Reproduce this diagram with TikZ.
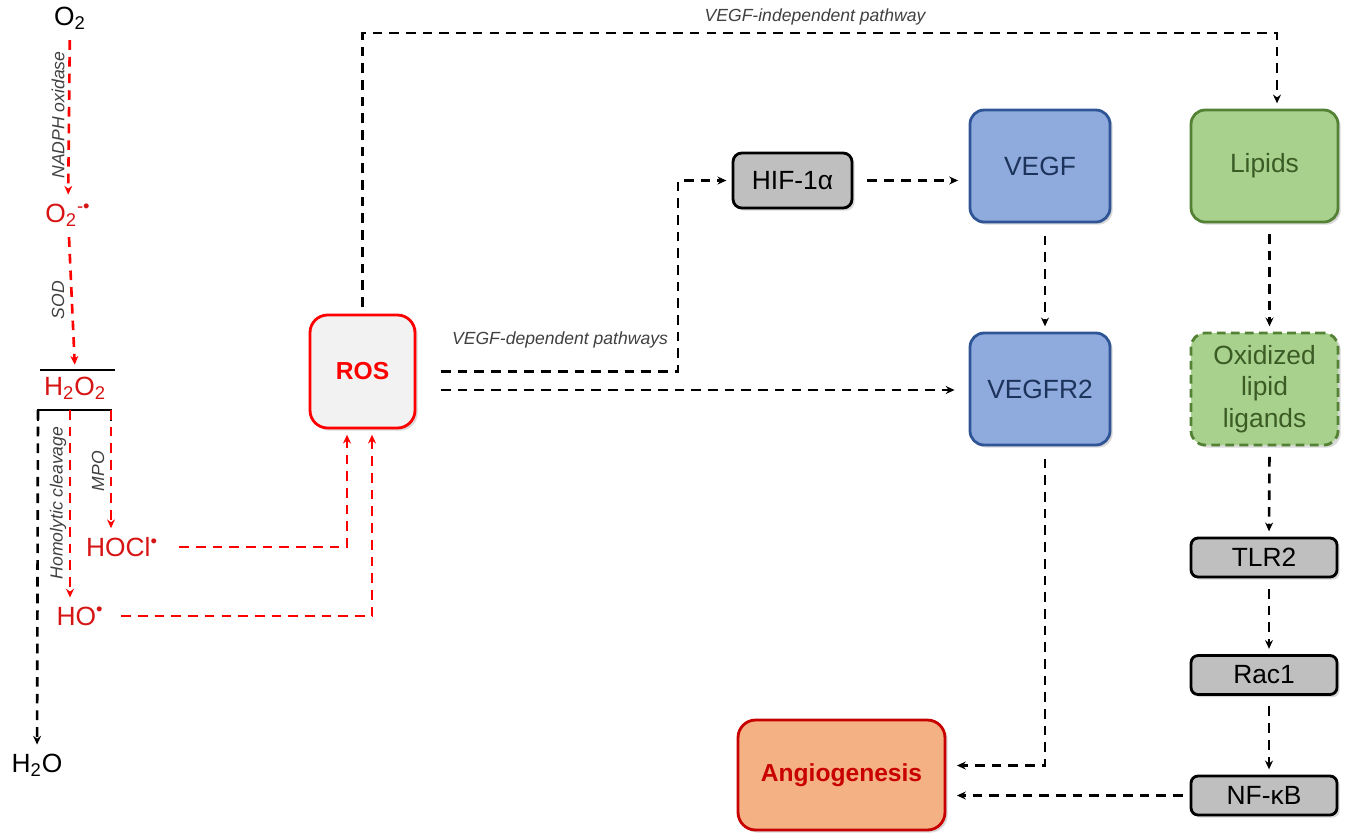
\documentclass[tikz,border=0pt]{standalone}
\usepackage{fontspec}
\setmainfont{Liberation Sans}
\usetikzlibrary{arrows.meta,shadows,positioning}

\definecolor{rosred}{RGB}{255,0,0}
\definecolor{txtred}{RGB}{215,20,20}
\definecolor{angiofill}{RGB}{244,177,131}
\definecolor{angiodraw}{RGB}{200,0,0}
\definecolor{bluefill}{RGB}{143,170,220}
\definecolor{bluedraw}{RGB}{47,85,151}
\definecolor{greenfill}{RGB}{169,209,142}
\definecolor{greendraw}{RGB}{84,130,53}
\definecolor{greyfill}{RGB}{191,191,191}
\definecolor{lblgrey}{RGB}{64,64,64}

\tikzset{
	box/.style={draw,rounded corners=8pt,line width=1.6pt,align=center,
		font=\fontsize{15}{18}\selectfont,
		drop shadow={opacity=.3,shadow xshift=1.5pt,shadow yshift=-1.5pt}},
	bigbox/.style={box,minimum width=2.8cm,minimum height=2.24cm},
	smallbox/.style={box,rounded corners=4pt,fill=greyfill,minimum width=2.92cm,minimum height=.78cm},
	chem/.style={inner sep=2pt,font=\fontsize{15}{18}\selectfont},
	lbl/.style={text=lblgrey,font=\fontsize{10}{12}\selectfont\itshape},
	flow/.style={line width=1.5pt,dash pattern=on 5.5pt off 4pt,
		-{Stealth[length=5pt,width=4.5pt]},shorten <=4pt,shorten >=3pt},
	redflow/.style={flow,rosred},
	bar/.style={line width=1.6pt}
}

\begin{document}
\begin{tikzpicture}[x=0.02cm,y=-0.02cm]
	\useasboundingbox (0,0) rectangle (1348,833);

	% oxygen chain
	\node[chem] (o2) at (70,18) {O\textsubscript{2}};
	\node[chem,text=txtred] (sup) at (68,215) {O\textsubscript{2}\textsuperscript{-•}};
	\node[chem,text=txtred] (hperox) at (75,388) {H\textsubscript{2}O\textsubscript{2}};
	\node[chem,text=txtred] (hocl) at (122,547) {HOCl\textsuperscript{•}};
	\node[chem,text=txtred] (ho) at (80,616) {HO\textsuperscript{•}};
	\node[chem] (water) at (37,765) {H\textsubscript{2}O};

	\draw[bar] (40,370) -- (115,370);
	\coordinate (bl) at (38,410);
	\coordinate (bm) at (70,410);
	\coordinate (br) at (111,410);
	\draw[bar] ([yshift=-6pt]bl) -- (bl) -- (br) -- ([yshift=-6pt]br);

	\draw[redflow] (o2) -- (sup);
	\draw[redflow] (sup) -- (hperox.north |- 0,370);
	\draw[flow,shorten <=0pt] (bl) -- (water);
	\draw[redflow,shorten <=0pt] (bm) -- (ho.north -| bm);
	\draw[redflow,shorten <=0pt] (br) -- (hocl.north -| br);

	\node[lbl,rotate=90] at (58,115) {NADPH oxidase};
	\node[lbl,rotate=90] at (58,300) {SOD};
	\node[lbl,rotate=90] at (58,503) {Homolytic cleavage};
	\node[lbl,rotate=90] at (98,471) {MPO};

	% boxes
	\node[box,rosred,fill=black!5,minimum width=2.1cm,minimum height=2.26cm,
		rounded corners=10pt,font=\fontsize{14}{17}\selectfont\bfseries] (ros) at (362.5,371.5) {ROS};
	\node[box,rounded corners=5pt,fill=greyfill,minimum width=2.38cm,minimum height=1.1cm] (hif) at (792.5,180.5) {HIF-1α};
	\node[bigbox,draw=bluedraw,fill=bluefill,text=bluedraw!60!black] (vegf) at (1040,166) {VEGF};
	\node[bigbox,draw=bluedraw,fill=bluefill,text=bluedraw!60!black] (vegfr) at (1040,389) {VEGFR2};
	\node[bigbox,minimum width=2.94cm,draw=greendraw,fill=greenfill,text=greendraw!70!black] (lipids) at (1264.5,166) {Lipids};
	\node[bigbox,minimum width=2.94cm,draw=greendraw,fill=greenfill,text=greendraw!70!black,
		dash pattern=on 5pt off 3pt] (oxid) at (1264.5,389) {Oxidized\\lipid\\ligands};
	\node[smallbox] (tlr) at (1264,557.5) {TLR2};
	\node[smallbox] (rac) at (1264,675) {Rac1};
	\node[smallbox] (nfkb) at (1264,795.5) {NF-κB};
	\node[box,draw=angiodraw,fill=angiofill,text=angiodraw,minimum width=4.14cm,minimum height=2.2cm,
		rounded corners=10pt,font=\fontsize{14}{17}\selectfont\bfseries] (angio) at (841.5,775) {Angiogenesis};

	% ROS sources
	\draw[redflow,shorten <=10pt] (hocl.east) -| ([xshift=-0.31cm]ros.south);
	\draw[redflow,shorten <=8pt] (ho.east) -| ([xshift=0.19cm]ros.south);

	% VEGF-independent
	\node[lbl] at (815,17) {VEGF-independent pathway};
	\draw[flow] (ros.north) |- ([xshift=0.25cm]lipids.north |- 0,33) -- ([xshift=0.25cm]lipids.north);

	% VEGF-dependent
	\node[lbl] at (560,340) {VEGF-dependent pathways};
	\coordinate (dep) at (678,280);
	\coordinate (r2) at ([yshift=-0.37cm]ros.east);
	\draw[flow,shorten <=14pt] (ros.east) -| (dep) |- (hif.west);
	\draw[flow,shorten <=14pt,shorten >=8pt] (r2) -- (r2 -| vegfr.west);
	\draw[flow,shorten <=8pt,shorten >=6pt] (hif.east) -- (hif.east -| vegf.west);
	\draw[flow,shorten <=7pt] ([xshift=0.1cm]vegf.south) -- ([xshift=0.1cm]vegfr.north);

	\foreach \a/\b in {lipids/oxid,oxid/tlr,tlr/rac,rac/nfkb}
		\draw[flow,shorten <=6pt] ([xshift=0.1cm]\a.south) -- ([xshift=0.1cm]\b.north);

	% to angiogenesis
	\coordinate (a1) at ([yshift=0.6cm]nfkb.west);
	\draw[flow,shorten <=7pt,shorten >=6pt] ([xshift=0.1cm]vegfr.south) |- (a1 -| angio.east);
	\draw[flow,shorten >=6pt] (nfkb.west) -- (nfkb.west -| angio.east);
\end{tikzpicture}
\end{document}
